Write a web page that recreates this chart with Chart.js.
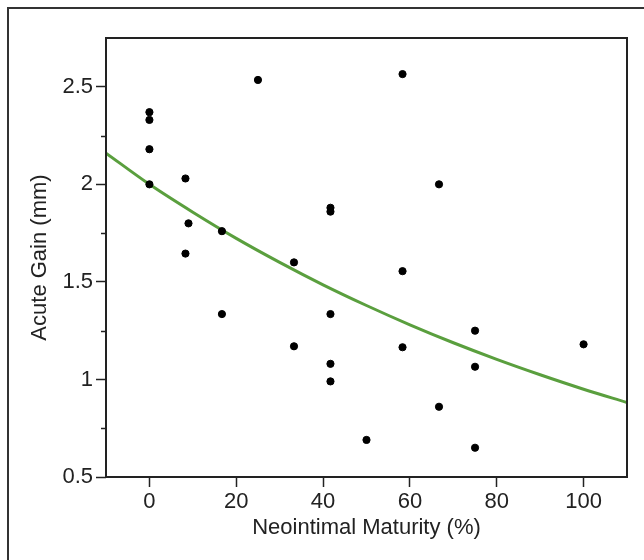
<!DOCTYPE html>
<html>
<head>
<meta charset="utf-8">
<title>Acute Gain vs Neointimal Maturity</title>
<script src="https://cdn.jsdelivr.net/npm/chart.js@4.4.1/dist/chart.umd.min.js"></script>
<style>
  html, body { margin: 0; padding: 0; background: #fff; }
  canvas { display: block; }
</style>
</head>
<body>
<canvas id="scatterChart" width="644" height="560"></canvas>
<script>
const maturity = [0, 0, 0, 0, 8.3, 9.0, 8.3, 16.7, 16.7, 25, 33.3, 33.3,
  41.7, 41.7, 41.7, 41.7, 41.7, 50, 58.3, 58.3, 58.3, 66.7, 66.7, 75, 75, 75, 100];
const acuteGain = [2.37, 2.33, 2.18, 2.00, 2.03, 1.80, 1.645, 1.76, 1.335, 2.535, 1.60, 1.17,
  1.88, 1.86, 1.335, 1.08, 0.99, 0.69, 2.565, 1.555, 1.165, 2.00, 0.86, 1.25, 1.065, 0.65, 1.18];

// Fitted curve
const fitX = [-10, 0, 10, 20, 30, 40, 50, 60, 70, 80, 90, 100, 110];
const fitY = [2.16, 2.00, 1.857, 1.723, 1.60, 1.485, 1.379, 1.28, 1.188, 1.103, 1.024, 0.95, 0.882];

// Axis ticks
const xTicks = [0, 20, 40, 60, 80, 100];
const yTicks = [0.5, 1, 1.5, 2, 2.5];
const yMinorTicks = [0.75, 1.25, 1.75, 2.25];

const INK = '#222';
const FONT = { family: '"Liberation Sans", Arial, sans-serif', size: 22 };

// white background, plot box, frame and minor y ticks
const framePlugin = {
  id: 'frame',
  beforeDraw(chart) {
    const ctx = chart.ctx;
    ctx.save();
    ctx.fillStyle = '#fff';
    ctx.fillRect(0, 0, chart.width, chart.height);
    ctx.restore();
  },
  afterDraw(chart) {
    const { ctx, chartArea } = chart;
    const yScale = chart.scales.y;
    ctx.save();
    ctx.strokeStyle = INK;
    ctx.lineWidth = 2;
    ctx.strokeRect(chartArea.left, chartArea.top,
      chartArea.right - chartArea.left, chartArea.bottom - chartArea.top);

    ctx.lineWidth = 1.5;
    yMinorTicks.forEach(v => {
      const py = Math.round(yScale.getPixelForValue(v)) + 0.5;
      ctx.beginPath();
      ctx.moveTo(chartArea.left - 5, py);
      ctx.lineTo(chartArea.left, py);
      ctx.stroke();
    });

    // outer figure frame (top and left edges only)
    ctx.strokeStyle = '#333';
    ctx.lineWidth = 2;
    ctx.beginPath();
    ctx.moveTo(8, chart.height);
    ctx.lineTo(8, 8);
    ctx.lineTo(chart.width, 8);
    ctx.stroke();
    ctx.restore();
  }
};

const points = maturity.map((x, i) => ({ x: x, y: acuteGain[i] }));
const curve = fitX.map((x, i) => ({ x: x, y: fitY[i] }));

new Chart(document.getElementById('scatterChart').getContext('2d'), {
  type: 'scatter',
  data: {
    datasets: [
      {
        label: 'Patients',
        data: points,
        backgroundColor: '#000',
        borderColor: '#000',
        pointRadius: 3.6,
        pointHoverRadius: 3.6,
        order: 1
      },
      {
        type: 'line',
        label: 'Fit',
        data: curve,
        borderColor: '#5a9f3e',
        borderWidth: 3,
        pointRadius: 0,
        fill: false,
        cubicInterpolationMode: 'monotone',
        order: 2
      }
    ]
  },
  options: {
    responsive: false,
    animation: false,
    layout: { padding: { left: 0, top: 38, right: 17, bottom: 0 } },
    plugins: {
      legend: { display: false },
      tooltip: { enabled: false }
    },
    scales: {
      x: {
        type: 'linear',
        min: -10,
        max: 110,
        afterBuildTicks: scale => { scale.ticks = xTicks.map(v => ({ value: v })); },
        afterFit: scale => { scale.height = 83; },
        grid: {
          drawOnChartArea: false,
          drawTicks: true,
          tickLength: 10,
          tickWidth: 1.5,
          tickColor: INK
        },
        border: { display: false },
        ticks: { color: INK, font: FONT, padding: 2, maxRotation: 0 },
        title: {
          display: true,
          text: 'Neointimal Maturity (%)',
          color: INK,
          font: FONT,
          padding: { top: 0, bottom: 19 }
        }
      },
      y: {
        type: 'linear',
        min: 0.5,
        max: 2.75,
        afterBuildTicks: scale => { scale.ticks = yTicks.map(v => ({ value: v })); },
        afterFit: scale => { scale.width = 106; },
        grid: {
          drawOnChartArea: false,
          drawTicks: true,
          tickLength: 10,
          tickWidth: 1.5,
          tickColor: INK
        },
        border: { display: false },
        ticks: {
          color: INK,
          font: FONT,
          padding: 3,
          callback: v => String(v)
        },
        title: {
          display: true,
          text: 'Acute Gain (mm)',
          color: INK,
          font: FONT,
          padding: { top: 27, bottom: 0 }
        }
      }
    }
  },
  plugins: [framePlugin]
});
</script>
</body>
</html>
